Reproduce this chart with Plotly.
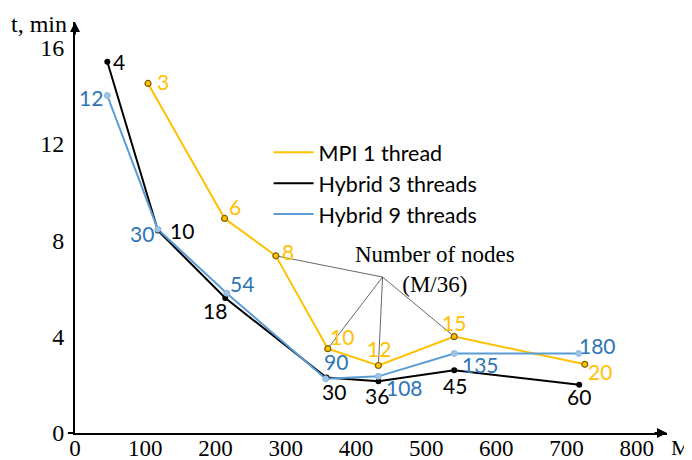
import plotly.graph_objects as go

# ---- data ----
mpi_M = [104, 213, 286, 360, 432, 540, 726]
mpi_t = [14.5, 8.9, 7.35, 3.5, 2.8, 4.0, 2.85]
mpi_nodes = ["3", "6", "8", "10", "12", "15", "20"]

h3_M = [46, 118, 214, 358, 432, 540, 718]
h3_t = [15.4, 8.4, 5.6, 2.3, 2.15, 2.6, 2.0]
h3_nodes = ["4", "10", "18", "30", "36", "45", "60"]

h9_M = [46, 118, 216, 357, 432, 540, 717]
h9_t = [14.0, 8.45, 5.8, 2.25, 2.35, 3.3, 3.3]
h9_nodes = ["12", "30", "54", "90", "108", "135", "180"]

x_ticks = [0, 100, 200, 300, 400, 500, 600, 700, 800]
y_ticks = [0, 4, 8, 12, 16]

hub = (438, 6.47)  # annotation hub point for "Number of nodes"

ORANGE = "#FFC000"
BLUE = "#5B9BD5"
BLUE_TXT = "#2E75B6"
SANS = "Lato"
SERIF = "Liberation Serif"

fig = go.Figure()

# pointer lines from the annotation hub to MPI points
for i in [2, 3, 4, 5]:
    fig.add_trace(go.Scatter(x=[hub[0], mpi_M[i]], y=[hub[1], mpi_t[i]], mode="lines",
                             line=dict(color="#404040", width=0.8), showlegend=False,
                             hoverinfo="skip"))

series = [
    ("MPI 1 thread", mpi_M, mpi_t, ORANGE, dict(color=ORANGE, size=6, line=dict(color="#7F6000", width=1.2)), "g1"),
    ("Hybrid 3 threads", h3_M, h3_t, "black", dict(color="black", size=6), "g2"),
    ("Hybrid 9 threads", h9_M, h9_t, BLUE, dict(color="#9DC3E6", size=6, line=dict(color="#8FB8DF", width=1)), "g3"),
]
for name, xs, ys, col, mk, grp in series:
    fig.add_trace(go.Scatter(x=xs, y=ys, mode="lines", name=name,
                             line=dict(color=col, width=2), legendgroup=grp))
for name, xs, ys, col, mk, grp in series:
    fig.add_trace(go.Scatter(x=xs, y=ys, mode="markers", marker=mk,
                             showlegend=False, legendgroup=grp))

# label offsets (px) per point
mpi_off = [(15, 2), (10, 12), (12, 4), (14, 12), (1, 17), (0, 14), (15, -7)]
h3_off = [(12, 0), (24, 0), (-10, -12), (8, -14), (-1, -14), (1, -15), (0, -12)]
h9_off = [(-16, -2), (-16, -4), (15, 10), (10, 17), (26, -11), (26, -11), (19, 8)]

annots = []
for xs, ys, labs, offs, col in [(mpi_M, mpi_t, mpi_nodes, mpi_off, ORANGE),
                                 (h3_M, h3_t, h3_nodes, h3_off, "black"),
                                 (h9_M, h9_t, h9_nodes, h9_off, BLUE_TXT)]:
    for x, y, lab, (dx, dy) in zip(xs, ys, labs, offs):
        annots.append(dict(x=x, y=y, text=lab, showarrow=False, xshift=dx, yshift=dy,
                           font=dict(family=SANS, size=21, color=col)))

annots.append(dict(x=hub[0], y=hub[1], text="Number of nodes<br>(M/36)", showarrow=False,
                   xshift=52, yshift=8, align="center",
                   font=dict(family=SERIF, size=23, color="black")))
# axis arrows
annots.append(dict(x=843, y=0, ax=-14, ay=0, axref="pixel", ayref="pixel", text="",
                   showarrow=True, arrowhead=2, arrowsize=1, arrowwidth=2, arrowcolor="black"))
annots.append(dict(x=0, y=17.05, ax=0, ay=14, axref="pixel", ayref="pixel", text="",
                   showarrow=True, arrowhead=2, arrowsize=1, arrowwidth=2, arrowcolor="black"))
annots.append(dict(x=0, y=1.0, xref="paper", yref="paper", text="t, min", showarrow=False,
                   xanchor="right", yanchor="middle", xshift=-6, yshift=-2,
                   font=dict(family=SERIF, size=24, color="black")))
annots.append(dict(x=1.0, y=0, xref="paper", yref="paper", text="M", showarrow=False,
                   xanchor="left", yanchor="middle", xshift=2, yshift=-14,
                   font=dict(family=SERIF, size=22, color="black")))

fig.update_layout(
    width=684, height=452,
    margin=dict(l=67, r=25, t=14, b=27, autoexpand=False),
    paper_bgcolor="white", plot_bgcolor="white",
    annotations=annots,
    shapes=[dict(type="line", xref="paper", yref="paper", x0=-0.012, x1=0, y0=0, y1=0,
                 line=dict(color="black", width=2))],
    showlegend=True,
    legend=dict(x=0.327, y=0.733, xanchor="left", yanchor="top",
                font=dict(family=SANS, size=21.5, color="black"),
                bgcolor="rgba(0,0,0,0)", tracegroupgap=0, itemwidth=40),
    xaxis=dict(range=[0, 843], tickvals=x_ticks, ticktext=[str(v) for v in x_ticks],
               showgrid=False, zeroline=False, showline=True, linecolor="black", linewidth=2,
               ticks="", automargin=False, ticklabelstandoff=-7,
               tickfont=dict(family=SERIF, size=23, color="black")),
    yaxis=dict(range=[0, 17.05], tickvals=y_ticks, ticktext=[str(v) for v in y_ticks],
               showgrid=False, zeroline=False, showline=True, linecolor="black", linewidth=2,
               ticks="", automargin=False, ticklabelstandoff=4,
               tickfont=dict(family=SERIF, size=24, color="black")),
)

fig.write_html("out.html")
